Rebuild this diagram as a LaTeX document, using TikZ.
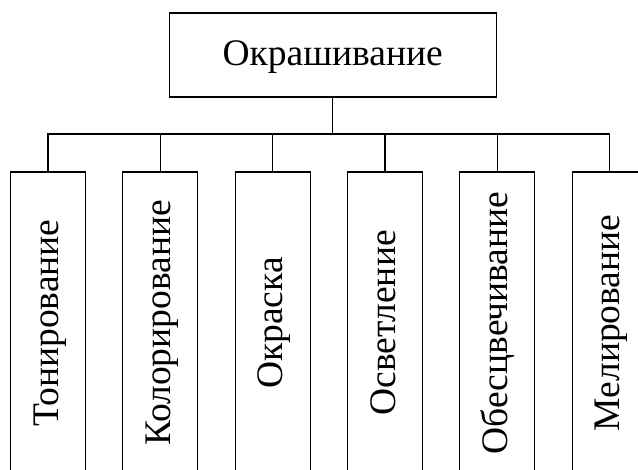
\documentclass[tikz,border=0pt]{standalone}
\usepackage{fontspec}
\setmainfont{Liberation Serif}
\begin{document}
\begin{tikzpicture}[x=1pt,y=-1pt,line width=1.2pt,
  childbox/.style={draw, minimum width=75pt, minimum height=302pt, inner sep=0pt},
  topbox/.style={draw, minimum width=327pt, minimum height=84pt, inner sep=0pt},
  lbl/.style={font=\fontsize{37.5}{40}\selectfont, inner sep=0pt, anchor=base},
  vlbl/.style={lbl, rotate=90},
  conn/.style={draw, line width=1.2pt}]
\useasboundingbox (0,0) rectangle (638,470);
\clip (0,0) rectangle (638,470);
\node[topbox] (top) at (332.7,55) {};
\node[lbl] (toptext) at (332.7,66) {Окрашивание};
\coordinate (bus) at (0,134);
\foreach \i/\x/\t in {1/48/Тонирование, 2/160.3/Колорирование, 3/272.7/Окраска, 4/385/Осветление, 5/497.3/Обесцвечивание, 6/609.7/Мелирование}{
  \node[childbox] (b\i) at (\x,323) {};
  \node[vlbl] (t\i) at (\x+10,323) {\t};
  \draw[conn] (top.south) -- (top.south |- bus) -| (b\i.north);
}
\end{tikzpicture}
\end{document}
